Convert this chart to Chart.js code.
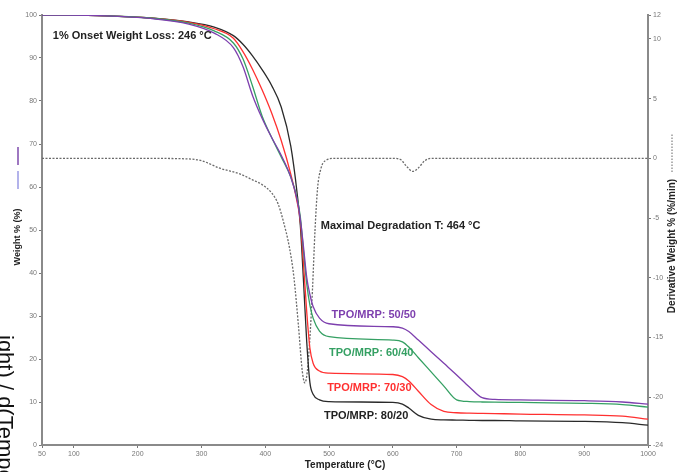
<!DOCTYPE html>
<html>
<head>
<meta charset="utf-8">
<script src="https://cdn.jsdelivr.net/npm/chart.js@4"></script>
<style>
  body { margin: 0; background: #fff; }
  #wrap { width: 685px; height: 472px; position: relative; }
</style>
</head>
<body>
<div id="wrap"><canvas id="tga"></canvas></div>
<script>
// temperature grid (°C) shared by the weight curves
const temps = [50, 150, 220, 280, 320, 350, 365, 380, 395, 410, 425, 440, 450, 455, 460, 465, 470, 475, 485, 500,
  600, 615, 625, 640, 660, 680, 700, 720, 740, 760, 800, 900, 960, 1000];

// weight % for each blend
const w5050 = [100, 99.8, 99.2, 97.9, 95.8, 92.4, 88, 81.3, 76, 71.5, 67.4, 62.3, 57, 52.5, 46, 39, 35, 32.2, 29.5, 28.2,
  27.5, 27.2, 26.4, 24.4, 21.7, 19, 16.3, 13.5, 11, 10.6, 10.5, 10.3, 10, 9.5];
const w6040 = [100, 99.8, 99.3, 98.1, 96.3, 93.5, 89.8, 83.5, 76.5, 71.5, 67, 62.3, 57.3, 53, 45, 37.5, 32.5, 29.5, 26.5, 25.2,
  24.4, 24.0, 22.8, 20.3, 17, 13.7, 10.5, 10.1, 10, 9.95, 9.9, 9.7, 9.4, 8.8];
const w7030 = [100, 99.8, 99.3, 98.3, 96.8, 94.6, 91.5, 87.4, 82.6, 77.2, 70.8, 63, 56.5, 52, 42, 31, 22.5, 19, 17.2, 16.7,
  16.4, 15.9, 14.9, 12.5, 9.4, 7.8, 7.5, 7.4, 7.35, 7.3, 7.2, 7.0, 6.7, 6.0];
const w8020 = [100, 99.8, 99.3, 98.4, 97.2, 95.2, 93.2, 90.5, 87.3, 83.6, 78.6, 69.5, 58.5, 51, 38, 24, 14.5, 11.8, 10.5, 10.1,
  9.9, 9.5, 8.6, 6.9, 6.0, 5.85, 5.8, 5.75, 5.7, 5.7, 5.6, 5.5, 5.2, 4.6];

// derivative weight (%/min)
const dTemps = [50, 200, 280, 300, 330, 360, 380, 395, 410, 420, 428, 438, 445, 452, 458, 462, 466, 470, 474, 478, 482, 487, 494, 510,
  600, 612, 622, 631, 640, 650, 660, 700, 800, 900, 1000];
const dValues = [0, 0, -0.05, -0.2, -0.85, -1.3, -1.8, -2.2, -2.9, -3.8, -5.2, -7.5, -10, -14, -17.8, -18.8, -17.8, -15, -11, -6, -2.5, -0.9, -0.2, 0,
  0, -0.1, -0.7, -1.1, -0.8, -0.2, 0, 0, 0, 0, 0];

const xTicks = [50, 100, 200, 300, 400, 500, 600, 700, 800, 900, 1000];
const rightTicks = [12, 10, 5, 0, -5, -10, -15, -20, -24];

const blends = ['TPO/MRP: 50/50', 'TPO/MRP: 60/40', 'TPO/MRP: 70/30', 'TPO/MRP: 80/20'];
const colors = ['#7d3fae', '#35a063', '#ff3030', '#2a2a2a'];

// text notes placed in data units (temperature, weight %)
const notes = [
  { text: '1% Onset Weight Loss: 246 °C', x: 67, y: 95.1, color: '#222' },
  { text: 'Maximal Degradation T: 464 °C', x: 487, y: 50.9, color: '#222' },
  { text: blends[0], x: 504, y: 30.2, color: colors[0] },
  { text: blends[1], x: 500, y: 21.4, color: colors[1] },
  { text: blends[2], x: 497, y: 13.3, color: colors[2] },
  { text: blends[3], x: 492, y: 6.7, color: '#222' },
];

const toPoints = (xs, ys) => ys.map((y, i) => ({ x: xs[i], y }));
const weights = [w5050, w6040, w7030, w8020];

const datasets = weights.map((w, i) => ({
  label: blends[i],
  data: toPoints(temps, w),
  borderColor: colors[i],
  borderWidth: 1.3,
  pointRadius: 0,
  fill: false,
  cubicInterpolationMode: 'monotone',
  yAxisID: 'y',
}));
datasets.push({
  label: 'Derivative',
  data: toPoints(dTemps, dValues),
  borderColor: '#6a6a6a',
  borderWidth: 1.3,
  borderDash: [2, 1.5],
  pointRadius: 0,
  fill: false,
  cubicInterpolationMode: 'monotone',
  yAxisID: 'y1',
});

const FONT = '"Liberation Sans", Arial, sans-serif';

// notes, axis titles and the cut-off label at the left edge
const textPlugin = {
  id: 'texts',
  afterDraw(chart) {
    const { ctx, scales } = chart;
    ctx.save();
    ctx.font = 'bold 11px ' + FONT;
    ctx.textAlign = 'left';
    ctx.textBaseline = 'middle';
    notes.forEach(n => {
      ctx.fillStyle = n.color;
      ctx.fillText(n.text, scales.x.getPixelForValue(n.x), scales.y.getPixelForValue(n.y));
    });

    // bottom title
    ctx.fillStyle = '#222';
    ctx.font = 'bold 10px ' + FONT;
    ctx.textAlign = 'center';
    ctx.fillText('Temperature (°C)', 345, 465);

    // left title with series marks
    ctx.save();
    ctx.translate(18, 237);
    ctx.rotate(-Math.PI / 2);
    ctx.font = 'bold 9px ' + FONT;
    ctx.textAlign = 'center';
    ctx.fillText('Weight % (%)', 0, 0);
    ctx.lineWidth = 1.3;
    ctx.strokeStyle = '#8a8ae0';
    ctx.beginPath(); ctx.moveTo(48, 0); ctx.lineTo(66, 0); ctx.stroke();
    ctx.strokeStyle = '#6a2fa0';
    ctx.beginPath(); ctx.moveTo(72, 0); ctx.lineTo(90, 0); ctx.stroke();
    ctx.restore();

    // right title
    ctx.save();
    ctx.translate(672, 246);
    ctx.rotate(-Math.PI / 2);
    ctx.font = 'bold 10px ' + FONT;
    ctx.textAlign = 'center';
    ctx.fillText('Derivative Weight % (%/min)', 0, 0);
    ctx.strokeStyle = '#666';
    ctx.lineWidth = 1;
    ctx.setLineDash([1.5, 1.5]);
    ctx.beginPath(); ctx.moveTo(74, 0); ctx.lineTo(112, 0); ctx.stroke();
    ctx.restore();

    // large label clipped at the left edge
    ctx.save();
    ctx.translate(-2, 335);
    ctx.rotate(Math.PI / 2);
    ctx.font = '22px ' + FONT;
    ctx.textAlign = 'left';
    ctx.textBaseline = 'alphabetic';
    ctx.fillStyle = '#111';
    ctx.fillText('ight) / d(Temperature)', 0, 0);
    ctx.restore();

    ctx.restore();
  },
};

const axisStyle = {
  grid: { drawOnChartArea: false, drawTicks: true, tickLength: 3, color: '#777', lineWidth: 1 },
  border: { display: true, color: '#8a8a8a', width: 2 },
  ticks: { font: { size: 7, family: FONT }, color: '#777', padding: 2, callback: v => String(v) },
};

new Chart(document.getElementById('tga'), {
  type: 'line',
  data: { datasets },
  options: {
    responsive: true,
    maintainAspectRatio: false,
    animation: false,
    layout: { padding: { top: 15, left: 0, right: 0, bottom: 0 } },
    plugins: {
      legend: { display: false },
      tooltip: { enabled: false },
    },
    scales: {
      x: {
        type: 'linear',
        min: 50,
        max: 1000,
        ...axisStyle,
        afterBuildTicks: s => { s.ticks = xTicks.map(v => ({ value: v })); },
        afterFit: s => { s.height = 27; },
      },
      y: {
        type: 'linear',
        position: 'left',
        min: 0,
        max: 100,
        ...axisStyle,
        ticks: { ...axisStyle.ticks, stepSize: 10 },
        afterFit: s => { s.width = 42; },
      },
      y1: {
        type: 'linear',
        position: 'right',
        min: -24,
        max: 12,
        ...axisStyle,
        afterBuildTicks: s => { s.ticks = rightTicks.map(v => ({ value: v })); },
        afterFit: s => { s.width = 37; },
      },
    },
  },
  plugins: [textPlugin],
});
</script>
</body>
</html>
